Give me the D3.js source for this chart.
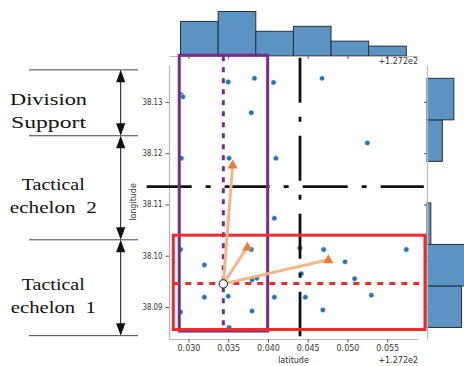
<!DOCTYPE html>
<html>
<head>
<meta charset="utf-8">
<script src="https://cdn.jsdelivr.net/npm/d3@7"></script>
<style>
  body { margin: 0; background: #fff; }
  svg { display: block; }
  .tick text { font-family: "DejaVu Sans", sans-serif; font-size: 8px; fill: #333; }
</style>
</head>
<body>
<svg id="chart" width="464" height="366"></svg>
<script>
// points (latitude is offset by +127.2)
const latitude = [0.0291, 0.0293, 0.0350, 0.0383, 0.0407, 0.0468, 0.0379, 0.0525,
  0.0291, 0.0351, 0.0410, 0.0408, 0.0290, 0.0320, 0.0379, 0.0440, 0.0470, 0.0574,
  0.0497, 0.0380, 0.0386, 0.0509, 0.0320, 0.0350, 0.0408, 0.0447, 0.0530, 0.0290,
  0.0380, 0.0469, 0.0351, 0.0442]
const longitude = [38.1314, 38.1310, 38.1339, 38.1346, 38.1338, 38.1346, 38.1279, 38.1220,
  38.1190, 38.1190, 38.1190, 38.1073, 38.1012, 38.0982, 38.1012, 38.1015, 38.1012, 38.1012,
  38.0988, 38.0953, 38.0956, 38.0955, 38.0919, 38.0921, 38.0919, 38.0919, 38.0923, 38.0890,
  38.0892, 38.0894, 38.0860, 38.0965]

const latTicks = [0.030, 0.035, 0.040, 0.045, 0.050, 0.055]
const lonTicks = [38.09, 38.10, 38.11, 38.12, 38.13]
const binCount = 6

// overlay annotations, in data units
const purpleBox = [0.02884, 0.03996, 38.0853, 38.1391]
const purpleLine = [0.03438, 38.0851, 38.1389]
const redBox = [0.02809, 0.05975, 38.0856, 38.1040]
const redLine = [38.0946, 0.02809, 0.05975]
const blackH = [38.11346, 0.02474, 0.0596]
const blackV = [0.04403, 38.0843, 38.1386]
const centre = [0.03438, 38.0945]
const targets = [[0.03556, 38.1177], [0.0374, 38.1017], [0.04759, 38.0992]]

// echelon bands at the left (longitude boundaries)
const bandEdges = [38.13625, 38.1234, 38.1031, 38.0844]
const bandLabels = [["Division", "Support"], ["Tactical", "echelon  2"], ["Tactical", "echelon  1"]]
const bandWidths = [[77, 75], [63, 87], [63, 85]]

const svg = d3.select("#chart")
const plot = {left: 169, right: 418, top: 65, bottom: 339}

const x = d3.scaleLinear().domain([0.02755, 0.05887]).range([plot.left, plot.right])
const y = d3.scaleLinear().domain([38.08375, 38.1372]).range([plot.bottom, plot.top])

// marginal histograms
function bins(values) {
    const [lo, hi] = d3.extent(values)
    const step = (hi - lo) / binCount
    return d3.bin().domain([lo, hi])
        .thresholds(d3.range(1, binCount).map(i => lo + i * step))(values)
}
const latBins = bins(latitude)
const lonBins = bins(longitude)

const topY = d3.scaleLinear().domain([0, d3.max(latBins, d => d.length)]).range([56, 11.5])
svg.append("g").selectAll("rect")
    .data(latBins)
    .join("rect")
        .attr("x", d => x(d.x0))
        .attr("width", d => x(d.x1) - x(d.x0))
        .attr("y", d => topY(d.length))
        .attr("height", d => topY(0) - topY(d.length))
        .attr("fill", "#5b93c3")
        .attr("stroke", "#26303a")
        .attr("stroke-width", 1)

const sideX = d3.scaleLinear().domain([0, 9]).range([427, 461.5])
svg.append("g").selectAll("rect")
    .data(lonBins.filter(d => d.length > 0))
    .join("rect")
        .attr("y", d => y(d.x1))
        .attr("height", d => y(d.x0) - y(d.x1))
        .attr("x", sideX(0))
        .attr("width", d => sideX(d.length) - sideX(0))
        .attr("fill", "#5b93c3")
        .attr("stroke", "#26303a")
        .attr("stroke-width", 1)

function styleAxis(g) {
    g.select(".domain").attr("stroke", "#b8b8b8").attr("stroke-width", 1.2)
    g.selectAll(".tick line").attr("stroke", "#555")
}

svg.append("g").attr("transform", "translate(0,56)")
    .call(d3.axisBottom(x).tickValues(latTicks).tickSize(3).tickSizeOuter(0).tickFormat(""))
    .call(styleAxis)
svg.append("g").attr("transform", "translate(427,0)")
    .call(d3.axisLeft(y).tickValues(lonTicks).tickSize(3).tickSizeOuter(0).tickFormat(""))
    .call(styleAxis)

// main axes
svg.append("g").attr("transform", `translate(0,${plot.bottom})`)
    .call(d3.axisBottom(x).tickValues(latTicks).tickSize(3.5).tickPadding(3)
        .tickSizeOuter(0).tickFormat(d3.format(".3f")))
    .call(styleAxis)
svg.append("g").attr("transform", `translate(${plot.left},0)`)
    .call(d3.axisLeft(y).tickValues(lonTicks).tickSize(3.5).tickPadding(3)
        .tickSizeOuter(0).tickFormat(d3.format(".2f")))
    .call(styleAxis)
    .call(g => g.selectAll(".tick text").attr("textLength", 20).attr("lengthAdjust", "spacingAndGlyphs"))

const small = {"font-family": "DejaVu Sans, sans-serif", "font-size": "8px", fill: "#333"}
function label(sel, attrs) {
    Object.entries(Object.assign({}, small, attrs)).forEach(([k, v]) => sel.attr(k, v))
    return sel
}
label(svg.append("text"), {x: (plot.left + plot.right) / 2, y: 363, "text-anchor": "middle"}).text("latitude")
label(svg.append("text"), {x: plot.right, y: 363, "text-anchor": "end"}).text("+1.272e2")
label(svg.append("text"), {x: plot.right, y: 64, "text-anchor": "end"}).text("+1.272e2")
label(svg.append("text"), {"text-anchor": "middle",
    transform: `translate(136,${(plot.top + plot.bottom) / 2}) rotate(-90)`}).text("longitude")

// scatter
svg.append("g").selectAll("circle")
    .data(d3.zip(latitude, longitude))
    .join("circle")
        .attr("cx", d => x(d[0]))
        .attr("cy", d => y(d[1]))
        .attr("r", 2.7)
        .attr("fill", "#1f77b4")
        .attr("stroke", "#fff")
        .attr("stroke-width", 0.6)

// dash-dot quadrant lines
svg.append("line")
    .attr("x1", x(blackH[1])).attr("x2", x(blackH[2]))
    .attr("y1", y(blackH[0])).attr("y2", y(blackH[0]))
    .attr("stroke", "#111").attr("stroke-width", 2.8).attr("stroke-dasharray", "45,14,5,14")
svg.append("line")
    .attr("x1", x(blackV[0])).attr("x2", x(blackV[0]))
    .attr("y1", y(blackV[2])).attr("y2", y(blackV[1]))
    .attr("stroke", "#111").attr("stroke-width", 2.8).attr("stroke-dasharray", "45,14,5,14")

// purple column
svg.append("rect")
    .attr("x", x(purpleBox[0])).attr("width", x(purpleBox[1]) - x(purpleBox[0]))
    .attr("y", y(purpleBox[3])).attr("height", y(purpleBox[2]) - y(purpleBox[3]))
    .attr("fill", "none").attr("stroke", "#7b2a8a").attr("stroke-width", 3)
svg.append("line")
    .attr("x1", x(purpleLine[0])).attr("x2", x(purpleLine[0]))
    .attr("y1", y(purpleLine[2])).attr("y2", y(purpleLine[1]))
    .attr("stroke", "#7b2a8a").attr("stroke-width", 3).attr("stroke-dasharray", "5,6")

// red row
svg.append("rect")
    .attr("x", x(redBox[0])).attr("width", x(redBox[1]) - x(redBox[0]))
    .attr("y", y(redBox[3])).attr("height", y(redBox[2]) - y(redBox[3]))
    .attr("fill", "none").attr("stroke", "#ee2b2b").attr("stroke-width", 3)
svg.append("line")
    .attr("x1", x(redLine[1])).attr("x2", x(redLine[2]))
    .attr("y1", y(redLine[0])).attr("y2", y(redLine[0]))
    .attr("stroke", "#ee2b2b").attr("stroke-width", 3).attr("stroke-dasharray", "6,6")

// arrows from the centre
const arrows = svg.append("g")
arrows.selectAll("line")
    .data(targets)
    .join("line")
        .attr("x1", x(centre[0])).attr("y1", y(centre[1]))
        .attr("x2", d => x(d[0])).attr("y2", d => y(d[1]))
        .attr("stroke", "#f5b58a").attr("stroke-width", 3)
arrows.selectAll("path")
    .data(targets)
    .join("path")
        .attr("transform", d => `translate(${x(d[0])},${y(d[1])})`)
        .attr("d", "M0,-5.5L5,3.5L-5,3.5Z")
        .attr("fill", "#f07b33")
svg.append("circle")
    .attr("cx", x(centre[0])).attr("cy", y(centre[1])).attr("r", 4.2)
    .attr("fill", "#fff").attr("stroke", "#111").attr("stroke-width", 1)

// echelon brackets on the left
const side = svg.append("g")
side.selectAll("line.edge")
    .data(bandEdges)
    .join("line")
        .attr("class", "edge")
        .attr("x1", 29).attr("x2", 138)
        .attr("y1", d => y(d)).attr("y2", d => y(d))
        .attr("stroke", "#444").attr("stroke-width", 1)
const bands = d3.pairs(bandEdges)
side.selectAll("line.span")
    .data(bands)
    .join("line")
        .attr("class", "span")
        .attr("x1", 120.7).attr("x2", 120.7)
        .attr("y1", d => y(d[0]) + 10).attr("y2", d => y(d[1]) - 10)
        .attr("stroke", "#111").attr("stroke-width", 1)
bands.forEach(([a, b], i) => {
    side.append("path")
        .attr("d", `M120.7,${y(a)}l4.6,12.5h-9.2Z M120.7,${y(b)}l4.6,-12.5h-9.2Z`)
        .attr("fill", "#111")
    const mid = (y(a) + y(b)) / 2
    const t = side.append("text")
        .attr("font-family", "Liberation Serif, Times New Roman, serif")
        .attr("font-size", "17px")
        .attr("fill", "#111")
        .attr("text-anchor", "middle")
        .attr("xml:space", "preserve")
    bandLabels[i].forEach((s, j) => {
        t.append("tspan")
            .attr("x", i === 0 ? 48.5 : 53.3)
            .attr("y", mid + (j === 0 ? 2 : 25))
            .attr("textLength", bandWidths[i][j])
            .attr("lengthAdjust", "spacingAndGlyphs")
            .text(s)
    })
})
</script>
</body>
</html>
